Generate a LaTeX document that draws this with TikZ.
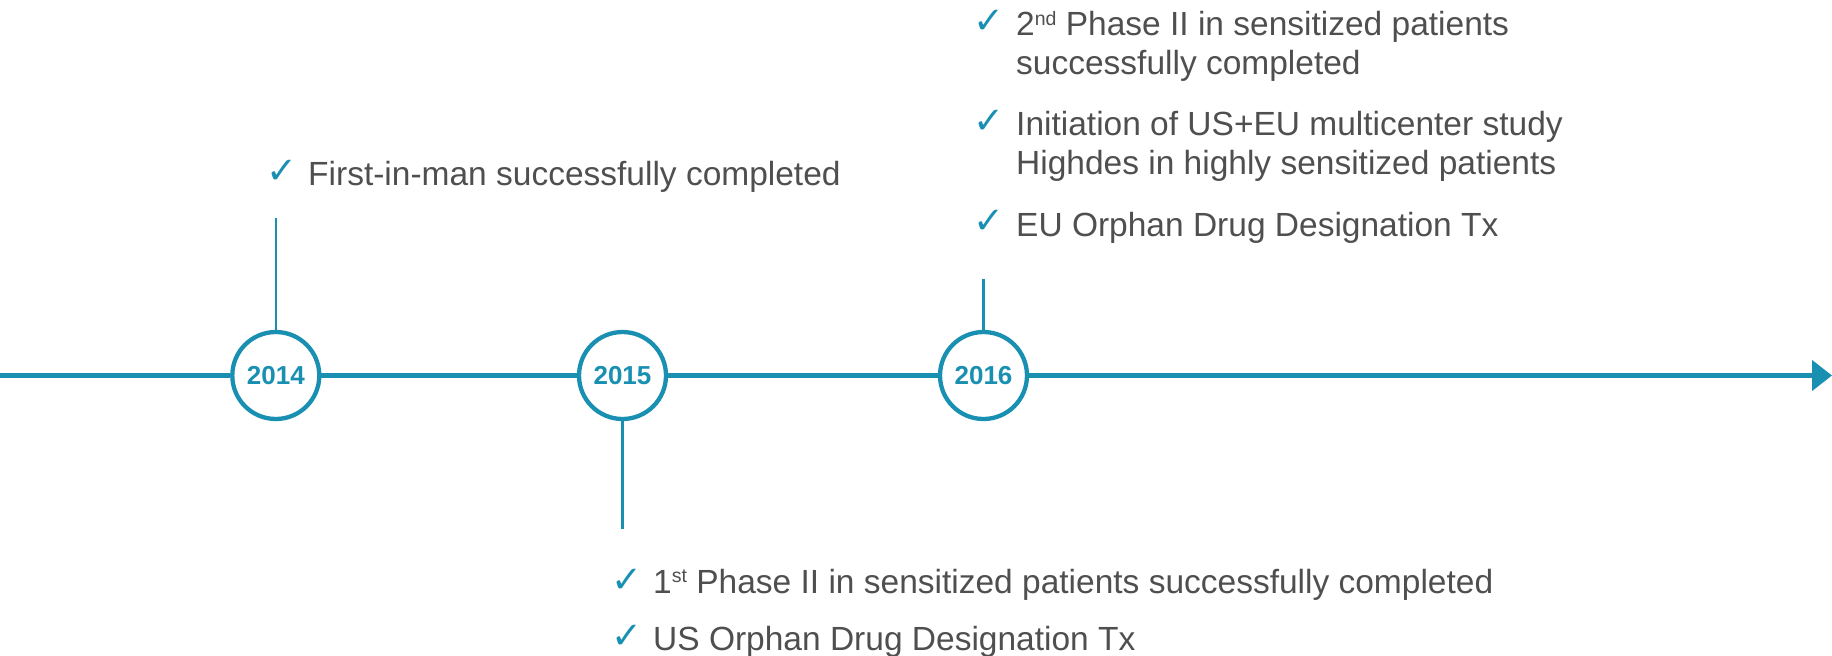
\documentclass[tikz,border=0pt]{standalone}
\usepackage{fontspec}
\setmainfont{Liberation Sans}
\newfontfamily\symfont{DejaVu Sans}
\usetikzlibrary{arrows.meta}
\definecolor{teal1}{HTML}{1990B2}
\definecolor{txtgray}{HTML}{4F4F4F}
\newcommand\mysup[1]{\raisebox{10.5pt}{\fontsize{19.5}{20}\selectfont #1}}
\begin{document}
\begin{tikzpicture}[x=1pt,y=-1pt,
 yearnode/.style={circle, draw=teal1, line width=4.3pt, fill=white, minimum size=87pt, inner sep=0pt, text=teal1, font=\fontsize{26}{26}\selectfont\bfseries},
 tline/.style={draw=teal1, line width=4.5pt},
 stem/.style={draw=teal1, line width=2.4pt},
 item/.style={anchor=base west, inner sep=0pt, text=txtgray, font=\fontsize{33.5}{38}\selectfont},
 tick/.style={anchor=center, inner sep=0pt, text=teal1, font=\symfont\fontsize{37}{37}\selectfont}]
\useasboundingbox (0,0) rectangle (1832,656);
% timeline
\node[yearnode] (y14) at (275.8,375.5) {2014};
\node[yearnode] (y15) at (622.5,375.5) {2015};
\node[yearnode] (y16) at (983.5,375.5) {2016};
\coordinate (start) at (0,375.5);
\coordinate (end) at (1832,375.5);
\draw[tline] (start) -- (y14.west);
\draw[tline] (y14.east) -- (y15.west);
\draw[tline] (y15.east) -- (y16.west);
\draw[tline,-{Triangle[length=20pt,width=30pt]}] (y16.east) -- (end);
% stems
\coordinate (s14) at (275.8,218);
\coordinate (s15) at (622.5,528.5);
\coordinate (s16) at (983.5,278.5);
\draw[stem] (s14) -- (y14.north);
\draw[stem] (y15.south) -- (s15);
\draw[stem] (s16) -- (y16.north);
% 2014
\node[tick] (c14) at (282,172) {✓};
\node[item] (t14) at (308,185.3) {First-in-man successfully completed};
% 2016
\node[tick] (c16a) at (989,22) {✓};
\node[item] (t16a) at (1016,35.7) {2\mysup{nd} Phase II in sensitized patients};
\node[item] (t16b) at (1016,74) {successfully completed};
\node[tick] (c16b) at (989,122) {✓};
\node[item] (t16c) at (1016,135.3) {Initiation of US+EU multicenter study};
\node[item] (t16d) at (1016,174) {Highdes in highly sensitized patients};
\node[tick] (c16c) at (989,222) {✓};
\node[item] (t16e) at (1016,236) {EU Orphan Drug Designation Tx};
% 2015
\node[tick] (c15a) at (627,580.5) {✓};
\node[item] (t15a) at (653,593.3) {1\mysup{st} Phase II in sensitized patients successfully completed};
\node[tick] (c15b) at (627,636.5) {✓};
\node[item] (t15b) at (653,650) {US Orphan Drug Designation Tx};
\end{tikzpicture}
\end{document}
